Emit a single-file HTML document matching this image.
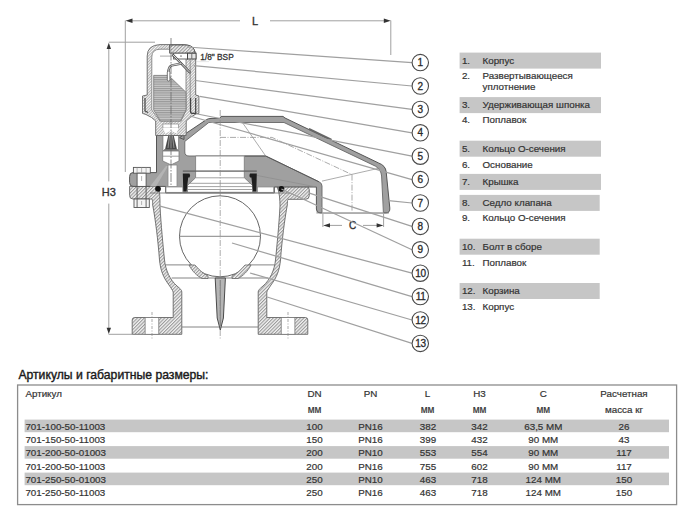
<!DOCTYPE html>
<html><head><meta charset="utf-8">
<style>
html,body{margin:0;padding:0;background:#fff;}
body{width:700px;height:521px;overflow:hidden;position:relative;}
svg{position:absolute;left:0;top:0;}
text{font-family:"Liberation Sans",sans-serif;}
</style></head>
<body>
<svg width="700" height="521" viewBox="0 0 700 521">
<defs>
 <pattern id="hatch" patternUnits="userSpaceOnUse" width="2.4" height="2.4" patternTransform="rotate(45)">
  <rect width="2.4" height="2.4" fill="#f2f2f2"/>
  <line x1="0.6" y1="0" x2="0.6" y2="2.4" stroke="#7a7a7a" stroke-width="0.8"/>
 </pattern>
 <pattern id="hhatch" patternUnits="userSpaceOnUse" width="3" height="2.2">
  <rect width="3" height="2.2" fill="#c9c9c9"/>
  <line x1="0" y1="0.6" x2="3" y2="0.6" stroke="#858585" stroke-width="0.8"/>
 </pattern>
 <pattern id="hatchf" patternUnits="userSpaceOnUse" width="2" height="2" patternTransform="rotate(45)">
  <rect width="2" height="2" fill="#f6f6f6"/>
  <line x1="0.5" y1="0" x2="0.5" y2="2" stroke="#8c8c8c" stroke-width="0.65"/>
 </pattern>
</defs>

<!-- ============ LEGEND ============ -->
<g fill="#c6c6c6">
 <rect x="459.6" y="52.6" width="141.4" height="16"/>
 <rect x="459.6" y="97.1" width="141.4" height="16"/>
 <rect x="459.6" y="140.7" width="141.4" height="16"/>
 <rect x="459.6" y="173.9" width="141.4" height="16"/>
 <rect x="459.6" y="194.9" width="140.1" height="16"/>
 <rect x="459.6" y="238.7" width="140.1" height="16"/>
 <rect x="459.6" y="283" width="140.1" height="16"/>
</g>
<g font-size="9.8" fill="#333" stroke="#333" stroke-width="0.2">
 <text x="461.9" y="63.6">1.</text><text x="482.5" y="63.6">Корпус</text>
 <text x="461.9" y="79.3">2.</text><text x="482.5" y="79.3">Развертывающееся</text><text x="482.5" y="90.3">уплотнение</text>
 <text x="461.9" y="108.2">3.</text><text x="482.5" y="108.2">Удерживающая шпонка</text>
 <text x="461.9" y="123.4">4.</text><text x="482.5" y="123.4">Поплавок</text>
 <text x="461.9" y="151.8">5.</text><text x="482.5" y="151.8">Кольцо О-сечения</text>
 <text x="461.9" y="167.7">6.</text><text x="482.5" y="167.7">Основание</text>
 <text x="461.9" y="185">7.</text><text x="482.5" y="185">Крышка</text>
 <text x="461.9" y="206">8.</text><text x="482.5" y="206">Седло клапана</text>
 <text x="461.9" y="221.4">9.</text><text x="482.5" y="221.4">Кольцо О-сечения</text>
 <text x="461.9" y="249.8">10.</text><text x="482.5" y="249.8">Болт в сборе</text>
 <text x="461.9" y="265.9">11.</text><text x="482.5" y="265.9">Поплавок</text>
 <text x="461.9" y="294.1">12.</text><text x="482.5" y="294.1">Корзина</text>
 <text x="461.9" y="310">13.</text><text x="482.5" y="310">Корпус</text>
</g>

<!-- ============ TABLE ============ -->
<text x="18.4" y="378.6" font-size="12.2" fill="#1a1a1a" stroke="#1a1a1a" stroke-width="0.4">Артикулы и габаритные размеры:</text>
<rect x="17.6" y="385" width="659" height="119.6" fill="none" stroke="#8c8c8c" stroke-width="1.3"/>
<g fill="#c6c6c6">
 <rect x="24.6" y="419.6" width="644.4" height="12.6"/>
 <rect x="24.6" y="446.1" width="644.4" height="12.6"/>
 <rect x="24.6" y="472.6" width="644.4" height="12.6"/>
</g>
<g font-size="9.8" fill="#333" stroke="#333" stroke-width="0.2">
 <text x="25.4" y="397.2">Артикул</text>
 <g text-anchor="middle">
  <text x="314.5" y="397.2">DN</text>
  <text x="370.5" y="397.2">PN</text>
  <text x="427.5" y="397.2">L</text>
  <text x="479.5" y="397.2">H3</text>
  <text x="543.3" y="397.2">C</text>
  <text x="624" y="397.2">Расчетная</text>
  <text x="314.5" y="413.4" font-size="10">мм</text>
  <text x="427.5" y="413.4" font-size="10">мм</text>
  <text x="479.5" y="413.4" font-size="10">мм</text>
  <text x="543.3" y="413.4" font-size="10">мм</text>
  <text x="624" y="413.4">масса кг</text>
 </g>
</g>
<g font-size="9.8" fill="#333" stroke="#333" stroke-width="0.2">
 <g transform="translate(0,429.9)">
  <text x="25.4" y="0">701-100-50-11003</text>
  <g text-anchor="middle"><text x="314.5">100</text><text x="370.5">PN16</text><text x="428">382</text><text x="479.5">342</text><text x="543.3">63,5 MM</text><text x="624">26</text></g>
 </g>
 <g transform="translate(0,443.15)">
  <text x="25.4" y="0">701-150-50-11003</text>
  <g text-anchor="middle"><text x="314.5">150</text><text x="370.5">PN16</text><text x="428">399</text><text x="479.5">432</text><text x="543.3">90 MM</text><text x="624">43</text></g>
 </g>
 <g transform="translate(0,456.4)">
  <text x="25.4" y="0">701-200-50-01003</text>
  <g text-anchor="middle"><text x="314.5">200</text><text x="370.5">PN10</text><text x="428">553</text><text x="479.5">554</text><text x="543.3">90 MM</text><text x="624">117</text></g>
 </g>
 <g transform="translate(0,469.65)">
  <text x="25.4" y="0">701-200-50-11003</text>
  <g text-anchor="middle"><text x="314.5">200</text><text x="370.5">PN16</text><text x="428">755</text><text x="479.5">602</text><text x="543.3">90 MM</text><text x="624">117</text></g>
 </g>
 <g transform="translate(0,482.9)">
  <text x="25.4" y="0">701-250-50-01003</text>
  <g text-anchor="middle"><text x="314.5">250</text><text x="370.5">PN10</text><text x="428">463</text><text x="479.5">718</text><text x="543.3">124 MM</text><text x="624">150</text></g>
 </g>
 <g transform="translate(0,496.15)">
  <text x="25.4" y="0">701-250-50-11003</text>
  <g text-anchor="middle"><text x="314.5">250</text><text x="370.5">PN16</text><text x="428">463</text><text x="479.5">718</text><text x="543.3">124 MM</text><text x="624">150</text></g>
 </g>
</g>

<!-- DRAWING_START -->
<g id="drawing">
<!-- dimension lines -->
<g stroke="#a0a0a0" stroke-width="1" fill="none">
 <line x1="131" y1="20.8" x2="240" y2="20.8"/>
 <line x1="270" y1="20.8" x2="385" y2="20.8"/>
 <line x1="125.3" y1="20.5" x2="125.3" y2="172"/>
 <line x1="390.8" y1="20.5" x2="390.8" y2="55"/>
 <line x1="108.8" y1="47" x2="108.8" y2="329"/>
 <line x1="108.8" y1="42.2" x2="155" y2="42.2"/>
 <line x1="108.6" y1="334.3" x2="132" y2="334.3"/>
 <line x1="329" y1="225.4" x2="342" y2="225.4"/>
 <line x1="363" y1="225.4" x2="378" y2="225.4"/>
 <line x1="322.9" y1="214" x2="322.9" y2="227"/>
 <line x1="383.6" y1="214" x2="383.6" y2="227"/>
</g>
<g fill="#333">
 <path d="M125.5 20.8 L132.5 18.6 L132.5 23 Z"/>
 <path d="M390.8 20.8 L383.8 18.6 L383.8 23 Z"/>
 <path d="M108.8 42.8 L106.6 49 L111 49 Z"/>
 <path d="M108.8 334 L106.6 327.8 L111 327.8 Z"/>
 <path d="M323.2 225.4 L330 223.3 L330 227.5 Z"/>
 <path d="M383.4 225.4 L376.6 223.3 L376.6 227.5 Z"/>
</g>
<rect x="101" y="181.4" width="16" height="22.2" fill="#fff"/>
<g font-size="11" fill="#333" stroke="#333" stroke-width="0.35" text-anchor="middle">
 <text x="255" y="24.9">L</text>
 <text x="108.9" y="196.2" font-size="11">H3</text>
 <text x="352.5" y="229" font-size="10">C</text>
</g>
<text x="200.3" y="59.6" font-size="8.3" fill="#333" stroke="#333" stroke-width="0.3">1/8" BSP</text>

<!-- ===== lower body (корпус) ===== -->
<g stroke="#666" stroke-width="0.9" fill="url(#hatch)">
 <!-- left wall -->
 <path d="M129.6 186.4 L158 186.4 C160 190 160 200 160 206 C161 225 163 245 164.5 260 C165.5 270 170 280 177 286 C180.5 289 181.8 290 181.8 292 L181.8 334.3 L132.2 334.3 L132.2 320 Q132.2 317.5 134.7 317.5 L173.2 317.5 L173.2 292 C172.5 290 171 288 169 285 C163 277 160.5 270 159.5 260 C158 240 155.5 220 152.7 205 C152.5 201 152.5 199.5 152 199 L133 199 Q129.6 199 129.6 195.5 Z"/>
 <!-- right wall -->
 <path d="M277 186.4 L306 186.4 Q309.3 186.4 309.3 190 L309.3 195.5 Q309.3 199.3 305.5 199.3 L288 199.3 C287.5 201 287.5 199.5 287.3 205 C284.5 220 282 240 280.5 260 C279.5 270 277 277 271 285 C269 288 267.5 290 266.8 292 L266.8 317.5 L305.3 317.5 Q307.8 317.5 307.8 320 L307.8 334.3 L258.2 334.3 L258.2 292 C258.2 290 259.5 289 263 286 C270 280 274.5 270 275.5 260 C277 245 279 225 280 206 C280 200 279.5 192 277 186.4 Z"/>
</g>
<!-- bolt holes bottom -->
<g fill="#fff" stroke="#777" stroke-width="0.8">
 <rect x="145.1" y="317.5" width="13.7" height="16.8"/>
 <rect x="281.2" y="317.5" width="13.7" height="16.8"/>
</g>
<g stroke="#888" stroke-width="0.7" stroke-dasharray="3 1.5 1 1.5">
 <line x1="152" y1="312" x2="152" y2="339"/>
 <line x1="288" y1="312" x2="288" y2="339"/>
</g>
<!-- basket lines -->
<g stroke="#777" stroke-width="0.9" fill="none">
 <line x1="165.5" y1="264.9" x2="274.5" y2="264.9"/>
 <line x1="171.7" y1="278" x2="268.3" y2="278"/>
 <line x1="181.8" y1="327" x2="258.2" y2="327"/>
</g>
<!-- ball -->
<circle cx="220" cy="236.3" r="40.5" fill="#fff" stroke="#666" stroke-width="1"/>
<line x1="179.5" y1="236.3" x2="260.5" y2="236.3" stroke="#777" stroke-width="0.9"/>
<!-- basket hatched supports -->
<g stroke="#666" stroke-width="0.8" fill="url(#hatch)">
 <path d="M189 265 L195 265 C199 270 204 274 208 276 L208 278.5 L202 278.5 C197 276 192 271 189 265 Z"/>
 <path d="M251 265 L245 265 C241 270 236 274 232 276 L232 278.5 L238 278.5 C243 276 248 271 251 265 Z"/>
</g>
<!-- spike -->
<path d="M215.2 278 L225.4 278 L223.4 318 L220.3 330 L217.2 318 Z" fill="#b5b5b5" stroke="#4a4a4a" stroke-width="1"/>
<line x1="220.3" y1="280" x2="220.3" y2="326" stroke="#666" stroke-width="0.6"/>

<!-- ===== cover + base grey ===== -->
<!-- cover shell outer silhouette -->
<path d="M156.5 135.5 L184 135.5 L184 139.5 L179.5 137.7 L206.5 119.6 Q208 118.4 212 118.4 L220 118.4 L221 116.4 L283 116.4 L285 118 L378.6 163 Q385.6 165.5 386.2 172 L389.8 208 Q390.2 212.9 386 212.9 L320 212.9 Q316.4 212.9 316.4 209 L316.4 187 L274.3 187 L274.3 192.9 L165.7 192.9 L165.7 186.4 L133 186.4 Q129.6 186.4 129.6 182.5 L129.6 176.5 Q129.6 172.6 133 172.6 L156.5 172.6 Z" fill="#a0a0a0" stroke="#555" stroke-width="1"/>
<!-- subtle diagonal boundary in base -->
<path d="M150 186.4 L166 166 L168 166 L156 186.4 Z" fill="#b4b4b4"/>
<line x1="256.7" y1="175.4" x2="316.4" y2="187" stroke="#8c8c8c" stroke-width="0.7"/>
<!-- cover hollow (white), open at bottom -->
<path d="M184.8 152 L184.8 141.4 L208.8 122.5 L284 122.5 L375.5 166.2 Q381 169.5 381.6 176 L383.6 213.3 L322 213.3 L322 186 Q322 183 319 181.8 L265.7 156 L189 156 Q184.8 156 184.8 152 Z" fill="#fff"/>
<path d="M322 212.5 L322 186 Q322 183 319 181.8 L265.7 156 L189 156 Q184.8 156 184.8 152 L184.8 141.4 L208.8 122.5 L284 122.5 L375.5 166.2 Q381 169.5 381.6 176 L383.4 212.5" fill="none" stroke="#666" stroke-width="0.9"/>
<line x1="316.4" y1="212.9" x2="389" y2="212.9" stroke="#777" stroke-width="0.9"/>
<path d="M308.5 129.8 L309.4 128.1 L331.7 138.8 L331.8 140.9 Z" fill="#666"/>
<!-- base top edge -->
<path d="M244.3 156 L265.7 156 L319 181.8" fill="none" stroke="#555" stroke-width="0.9"/>
<!-- seat orifice + seat ring white -->
<path d="M195.6 156 L244.3 156 L244.3 177.7 L252.5 185.4 L252.5 192.3 L187.5 192.3 L187.5 185.4 L195.6 177.7 Z" fill="#fff" stroke="#777" stroke-width="0.8"/>
<g stroke="#8a8a8a" stroke-width="0.8">
 <line x1="182.8" y1="171.1" x2="256.7" y2="171.1"/>
 <line x1="195.6" y1="177.8" x2="244.3" y2="177.8"/>
 <line x1="190" y1="183.3" x2="250" y2="183.3"/>
 <line x1="187.5" y1="186.6" x2="252.5" y2="186.6"/>
 <line x1="187.5" y1="189.5" x2="252.5" y2="189.5"/>
</g>
<!-- white bands under base -->
<rect x="166" y="187" width="16.8" height="5.3" fill="#fff" stroke="#888" stroke-width="0.7"/>
<rect x="257.5" y="187" width="16.2" height="5.3" fill="#fff" stroke="#888" stroke-width="0.7"/>
<line x1="150" y1="193" x2="290" y2="193" stroke="#777" stroke-width="0.9"/>
<!-- seals -->
<g fill="#1e1e1e">
 <path d="M182.8 173.6 L189.5 173.6 Q190.8 175.5 189.5 177.5 L188.2 177.5 L186.6 191.5 L183.3 191.5 Z"/>
 <path d="M256.8 173.6 L250.1 173.6 Q248.8 175.5 250.1 177.5 L251.4 177.5 L253 191.5 L256.3 191.5 Z"/>
</g>
<line x1="182.8" y1="171.1" x2="256.8" y2="171.1" stroke="#555" stroke-width="0.9"/>
<!-- neck interior -->
<path d="M162.9 135.5 L178.6 135.5 L178.6 150.5 L162.9 150.5 Z" fill="#fff" stroke="#777" stroke-width="0.8"/>
<path d="M169 132.5 L173 132.5 L177 149.5 L165 149.5 Z" fill="#4a4a4a"/>
<g stroke="#c8c8c8" stroke-width="0.6"><line x1="169.5" y1="136" x2="168" y2="148"/><line x1="171" y1="135" x2="171" y2="148"/><line x1="172.5" y1="136" x2="174" y2="148"/></g>
<line x1="164" y1="149.7" x2="178" y2="149.7" stroke="#555" stroke-width="0.8"/>
<path d="M162.7 151 L179 151 L179 161 L171 164.9 L162.7 161 Z" fill="#fff" stroke="#777" stroke-width="0.8"/>
<line x1="162.7" y1="156.2" x2="179" y2="156.2" stroke="#888" stroke-width="0.8"/>
<path d="M168 165 L177 165 L177 186.5 L168 186.5 Z" fill="#fff" stroke="#888" stroke-width="0.8"/>
<!-- o-rings -->
<circle cx="158" cy="188.8" r="2.9" fill="#111"/>
<circle cx="281.4" cy="188.9" r="2.9" fill="#111"/>
<!-- bolt -->
<g stroke="#555" stroke-width="0.9">
 <rect x="133.4" y="167.4" width="16.9" height="5.8" fill="#f4f4f4"/>
 <rect x="137.1" y="173.2" width="9" height="13.2" fill="#fff"/>
 <line x1="137.1" y1="186.4" x2="137.1" y2="199"/>
 <line x1="146.1" y1="186.4" x2="146.1" y2="199"/>
 <rect x="134" y="199" width="15.3" height="8.5" fill="#f4f4f4"/>
 <line x1="137.1" y1="199" x2="137.1" y2="207.5"/>
 <line x1="146.1" y1="199" x2="146.1" y2="207.5"/>
</g>
<g stroke="#999" stroke-width="0.7">
 <line x1="137.1" y1="167.6" x2="137.1" y2="173"/><line x1="141.6" y1="167.6" x2="141.6" y2="173"/><line x1="146.1" y1="167.6" x2="146.1" y2="173"/>
 <line x1="141.6" y1="176" x2="141.6" y2="181"/>
 <line x1="141.6" y1="201" x2="141.6" y2="205"/>
</g>

<!-- ===== top housing ===== -->
<!-- outer hatched body -->
<path d="M147.2 95 L147.2 56 Q147.2 45.2 160 44.6 L184 44.6 Q195.7 45.2 195.7 56 L195.7 95 L198.9 96 L198.9 113.4 L196 114 Q190 117 186.2 121 L186.2 135.5 L155.7 135.5 L155.7 121 Q152 117 146 114.5 L142.5 113.4 L142.5 96 L147.2 95 Z" fill="url(#hatchf)" stroke="#666" stroke-width="0.9"/>
<!-- inner cavity -->
<path d="M151.8 110 L151.8 57 Q151.8 49.4 160 49.2 L186 49.2 L186 110 L181 121 L160 121 Z" fill="#fff" stroke="#777" stroke-width="0.8"/>
<line x1="190.2" y1="60" x2="190.2" y2="112" stroke="#777" stroke-width="0.7"/>
<rect x="162.9" y="124" width="15.7" height="4.1" fill="#fff" stroke="#888" stroke-width="0.7"/>
<path d="M162.9 128.1 L178.6 128.1 L176.5 133.5 L171 130.8 L165.5 133.5 Z" fill="#fff"/>
<!-- grooves -->
<g fill="none" stroke="#444" stroke-width="1.2">
 <path d="M145 98 L145 111 L148 112.5"/>
 <path d="M190.6 98 L190.6 112 Q190.6 113.4 193 113.4 L195.7 113.4 L195.7 98"/>
</g>
<!-- float -->
<path d="M153.7 75.4 L168.5 75.4 L186 92.3 L186 110 L180.5 121 L160.5 121 L153.7 110 Z" fill="url(#hhatch)" stroke="#777" stroke-width="0.8"/>
<!-- top insert -->
<path d="M169.6 45 L187 45 Q194.5 45.8 195 53.2 L169.6 53.2 Z" fill="url(#hatch)" stroke="#555" stroke-width="0.9"/>
<rect x="173.6" y="53.2" width="13.9" height="5.8" fill="#fff" stroke="#555" stroke-width="0.9"/>
<path d="M180 56.1 L182 56.1 M181 55.2 L181 57" stroke="#777" stroke-width="0.6"/>
<rect x="187.5" y="53.2" width="8.6" height="5.8" fill="#e6e6e6" stroke="#444" stroke-width="1"/>
<line x1="191.8" y1="53.5" x2="191.8" y2="58.7" stroke="#555" stroke-width="0.8"/>
<line x1="160" y1="56.1" x2="173.6" y2="56.1" stroke="#888" stroke-width="0.7"/>
<line x1="196.5" y1="61.6" x2="209" y2="61.6" stroke="#bbb" stroke-width="0.7" stroke-dasharray="1 1"/>
<g fill="none" stroke-linecap="round">
 <path d="M173 55 L189.8 72.3" stroke="#555" stroke-width="2.4"/>
 <path d="M173 55 L189.8 72.3" stroke="#fff" stroke-width="0.8"/>
 <path d="M168.2 72 Q169 66 172 65.3 L181.1 63.6" stroke="#555" stroke-width="2.4"/>
 <path d="M168.2 72 Q169 66 172 65.3 L181.1 63.6" stroke="#fff" stroke-width="0.8"/>
</g>
<rect x="167.3" y="71" width="2.6" height="10" rx="1.2" fill="#fff" stroke="#555" stroke-width="0.8"/>
<!-- center lines -->
<line x1="171" y1="38" x2="171" y2="186" stroke="#6a6a6a" stroke-width="0.8" stroke-dasharray="9 1.5 1.5 1.5"/>
<g stroke="#888" stroke-width="0.7" stroke-dasharray="6 1.5 1 1.5" fill="none">
 <line x1="220.2" y1="110" x2="220.2" y2="340"/>
 <line x1="352" y1="174.6" x2="352" y2="212"/>
 <path d="M220 137.4 L272 137.4 L352 174.6"/>
</g>
<g stroke="#888" stroke-width="0.7" fill="none">
 <line x1="242.6" y1="122.8" x2="265.7" y2="156"/>
 <line x1="322" y1="181.1" x2="379.6" y2="168.1"/>
</g>

<!-- leader lines -->
<g stroke="#a0a0a0" stroke-width="1.25" fill="none">
 <line x1="187" y1="47" x2="412" y2="62.6"/>
 <line x1="193.7" y1="65.7" x2="412" y2="86.0"/>
 <line x1="195.4" y1="80.5" x2="412" y2="109.4"/>
 <line x1="199.7" y1="96.3" x2="412" y2="132.8"/>
 <line x1="197.4" y1="114" x2="412" y2="156.2"/>
 <line x1="190" y1="116" x2="412" y2="179.6"/>
 <line x1="388.6" y1="200.7" x2="412" y2="203.0"/>
 <line x1="308.6" y1="192.9" x2="412" y2="226.4"/>
 <line x1="281.4" y1="189" x2="412" y2="249.8"/>
 <line x1="160" y1="206.1" x2="412" y2="273.2"/>
 <line x1="232" y1="243" x2="412" y2="296.6"/>
 <line x1="250" y1="273" x2="412" y2="320.0"/>
 <line x1="267.2" y1="297" x2="412" y2="343.4"/>
</g>
<!-- circles -->
<g stroke="#4a4a4a" stroke-width="1.1" fill="#fff">
 <circle cx="420.3" cy="62.6" r="8.2"/>
 <circle cx="420.3" cy="86.0" r="8.2"/>
 <circle cx="420.3" cy="109.4" r="8.2"/>
 <circle cx="420.3" cy="132.8" r="8.2"/>
 <circle cx="420.3" cy="156.2" r="8.2"/>
 <circle cx="420.3" cy="179.6" r="8.2"/>
 <circle cx="420.3" cy="203.0" r="8.2"/>
 <circle cx="420.3" cy="226.4" r="8.2"/>
 <circle cx="420.3" cy="249.8" r="8.2"/>
 <circle cx="420.3" cy="273.2" r="8.2"/>
 <circle cx="420.3" cy="296.6" r="8.2"/>
 <circle cx="420.3" cy="320.0" r="8.2"/>
 <circle cx="420.3" cy="343.4" r="8.2"/>
</g>
<g font-size="10" fill="#2a2a2a" stroke="#2a2a2a" stroke-width="0.3" text-anchor="middle">
 <text x="420.3" y="66.2">1</text>
 <text x="420.3" y="89.6">2</text>
 <text x="420.3" y="113.0">3</text>
 <text x="420.3" y="136.4">4</text>
 <text x="420.3" y="159.8">5</text>
 <text x="420.3" y="183.2">6</text>
 <text x="420.3" y="206.6">7</text>
 <text x="420.3" y="230.0">8</text>
 <text x="420.3" y="253.4">9</text>
 <text x="420.3" y="276.8" letter-spacing="-0.35" dx="0.2">10</text>
 <text x="420.3" y="300.2" letter-spacing="-0.35" dx="0.2">11</text>
 <text x="420.3" y="323.6" letter-spacing="-0.35" dx="0.2">12</text>
 <text x="420.3" y="347.0" letter-spacing="-0.35" dx="0.2">13</text>
</g>
</g>

<!-- DRAWING_END -->
</svg>
</body></html>
